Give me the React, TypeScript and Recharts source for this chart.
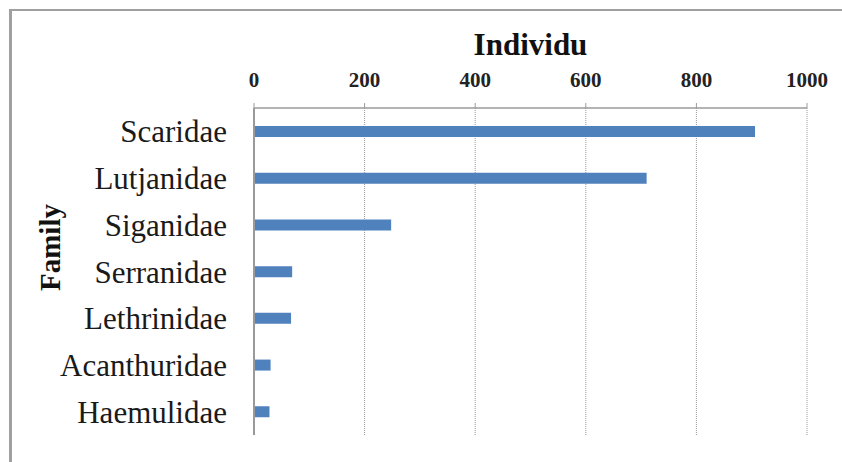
import { Bar, BarChart, CartesianGrid, Label, XAxis, YAxis } from "recharts";

const families = [
  "Scaridae",
  "Lutjanidae",
  "Siganidae",
  "Serranidae",
  "Lethrinidae",
  "Acanthuridae",
  "Haemulidae",
];
const individu = [906, 710, 248, 69, 67, 30, 28];
const xTicks = [0, 200, 400, 600, 800, 1000];

const data = families.map((name, i) => ({ name, value: individu[i] }));

const serif = "'Liberation Serif', 'Times New Roman', serif";
const axisGray = "#9a9a9a";

function TitleLabel(props: any) {
  const { viewBox } = props;
  const cx = viewBox.x + viewBox.width / 2;
  return (
    <text
      x={cx}
      y={viewBox.y + viewBox.height - 53}
      textAnchor="middle"
      fontFamily={serif}
      fontWeight="bold"
      fontSize={31}
      fill="#111"
    >
      Individu
    </text>
  );
}

function FamilyLabel(props: any) {
  const { viewBox } = props;
  const cy = viewBox.y + viewBox.height / 2 - 24;
  const x = 60;
  return (
    <text
      x={x}
      y={cy}
      transform={`rotate(-90 ${x} ${cy})`}
      textAnchor="middle"
      fontFamily={serif}
      fontWeight="bold"
      fontSize={29}
      fill="#111"
    >
      Family
    </text>
  );
}

export default function App() {
  return (
    <div
      style={{
        position: "absolute",
        left: 0,
        top: 0,
        width: 842,
        height: 462,
        overflow: "hidden",
        background: "#fff",
      }}
    >
      {/* frame: only the left and top edges fall inside the page */}
      <div
        style={{
          position: "absolute",
          left: 9,
          top: 9,
          width: 900,
          height: 500,
          borderLeft: "3px solid #a0a0a0",
          borderTop: "2px solid #a0a0a0",
        }}
      />
      <BarChart
        width={842}
        height={462}
        data={data}
        layout="vertical"
        margin={{ top: 48, right: 35, bottom: 27, left: 54 }}
        barCategoryGap={0}
        style={{ position: "absolute", left: 0, top: 0 }}
      >
        <CartesianGrid
          horizontal={false}
          stroke={axisGray}
          strokeDasharray="1 1"
        />
        <XAxis
          type="number"
          orientation="top"
          domain={[0, 1000]}
          ticks={xTicks}
          height={60}
          axisLine={{ stroke: axisGray, strokeWidth: 1.5 }}
          tickLine={{ stroke: axisGray }}
          tickSize={5}
          tickMargin={16}
          tick={{
            fontFamily: serif,
            fontWeight: "bold",
            fontSize: 21,
            fill: "#222",
          }}
        >
          <Label content={<TitleLabel />} />
        </XAxis>
        <YAxis
          type="category"
          dataKey="name"
          width={200}
          axisLine={{ stroke: axisGray, strokeWidth: 2 }}
          tickLine={false}
          tickSize={0}
          tickMargin={27}
          tick={{ fontFamily: serif, fontSize: 31, fill: "#1a1a1a" }}
        >
          <Label content={<FamilyLabel />} />
        </YAxis>
        <Bar
          dataKey="value"
          fill="#4F81BD"
          barSize={11}
          isAnimationActive={false}
        />
      </BarChart>
    </div>
  );
}
